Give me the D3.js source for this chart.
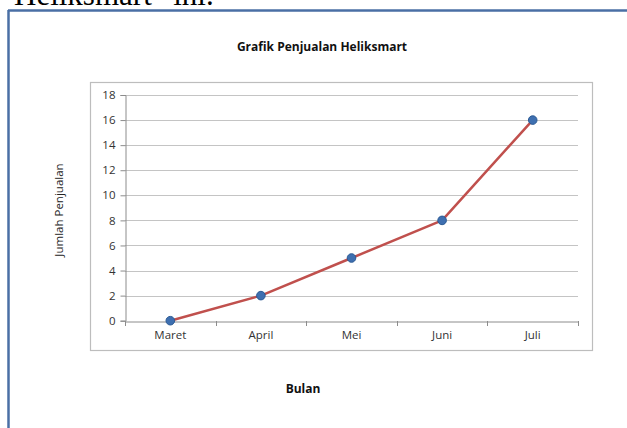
<!DOCTYPE html>
<html><head><meta charset="utf-8">
<script src="https://cdn.jsdelivr.net/npm/d3@7"></script>
<style>
html,body{margin:0;padding:0;background:#fff;overflow:hidden;}
svg{display:block;}
</style></head>
<body>
<svg id="c" width="627" height="428"></svg>
<script>
const categories = ["Maret", "April", "Mei", "Juni", "Juli"];
const values = [0, 2, 5, 8, 16];
const yTicks = [0, 2, 4, 6, 8, 10, 12, 14, 16, 18];
const chartTitle = "Grafik Penjualan Heliksmart";
const xTitle = "Bulan";
const yTitle = "Jumlah Penjualan";
const topText = "Heliksmart\u201d ini.";

const svg = d3.select("#c");
const font = "'Open Sans', 'Liberation Sans', sans-serif";

// top cut-off document text
svg.append("text").attr("x", 14).attr("y", 5)
  .attr("font-family", "'Liberation Serif','Times New Roman',serif")
  .attr("font-size", 31).attr("fill", "#000").text(topText);

// outer frame (blue)
svg.append("line").attr("x1", 8.5).attr("x2", 8.5).attr("y1", 10).attr("y2", 428)
  .attr("stroke", "#4a6fa5").attr("stroke-width", 2.5);
svg.append("line").attr("x1", 8).attr("x2", 627).attr("y1", 10.5).attr("y2", 10.5)
  .attr("stroke", "#4a6fa5").attr("stroke-width", 2.5);

// plot area box
svg.append("rect").attr("x", 90.5).attr("y", 82.5).attr("width", 502).attr("height", 268)
  .attr("fill", "#fff").attr("stroke", "#bdbdbd").attr("stroke-width", 1.2);

const x = d3.scaleBand().domain(categories).range([125, 578]);
const y = d3.scaleLinear().domain([0, 18]).range([320.7, 95]);

// gridlines
svg.append("g").selectAll("line").data(yTicks.filter(d => d > 0)).join("line")
  .attr("x1", 125).attr("x2", 578)
  .attr("y1", d => Math.round(y(d)) + 0.5).attr("y2", d => Math.round(y(d)) + 0.5)
  .attr("stroke", "#c4c4c4").attr("stroke-width", 1.2);

// y axis
const yAxis = svg.append("g").attr("transform", "translate(125.5,0)")
  .call(d3.axisLeft(y).tickValues(yTicks).tickSize(5).tickPadding(5));
yAxis.select(".domain").attr("stroke", "#8c8c8c");
yAxis.selectAll(".tick line").attr("stroke", "#8c8c8c");
yAxis.selectAll(".tick text").attr("font-family", font).attr("font-size", 11.5).attr("fill", "#333");

// x axis
const xAxis = svg.append("g").attr("transform", `translate(0,${Math.round(y(0)) + 0.5})`)
  .call(d3.axisBottom(x).tickSize(0).tickPadding(9));
xAxis.select(".domain").attr("stroke", "#8c8c8c");
xAxis.selectAll(".tick text").attr("font-family", font).attr("font-size", 11.5).attr("fill", "#333");
// band boundary ticks
const bounds = categories.map(c => x(c)).concat([x.range()[1]]);
svg.append("g").selectAll("line").data(bounds).join("line")
  .attr("x1", d => Math.round(d) + 0.5).attr("x2", d => Math.round(d) + 0.5)
  .attr("y1", Math.round(y(0))).attr("y2", Math.round(y(0)) + 5)
  .attr("stroke", "#8c8c8c");

// line
const pts = categories.map((c, i) => [x(c) + x.bandwidth() / 2, y(values[i])]);
svg.append("path").attr("d", d3.line()(pts)).attr("fill", "none")
  .attr("stroke", "#c0504d").attr("stroke-width", 2.5).attr("stroke-linejoin", "round");
svg.append("g").selectAll("circle").data(pts).join("circle")
  .attr("cx", d => d[0]).attr("cy", d => d[1]).attr("r", 4.3)
  .attr("fill", "#3e6fb0").attr("stroke", "#2b5a94").attr("stroke-width", 1);

// titles
svg.append("text").attr("x", 322).attr("y", 51).attr("text-anchor", "middle")
  .attr("font-family", font).attr("font-weight", "bold").attr("font-size", 12)
  .attr("fill", "#111").text(chartTitle);
svg.append("text").attr("x", 303).attr("y", 393).attr("text-anchor", "middle")
  .attr("font-family", font).attr("font-weight", "bold").attr("font-size", 12)
  .attr("fill", "#111").text(xTitle);
svg.append("text").attr("transform", "translate(63,210) rotate(-90)").attr("text-anchor", "middle")
  .attr("font-family", font).attr("font-size", 11.5)
  .attr("fill", "#222").text(yTitle);
</script>
</body></html>
